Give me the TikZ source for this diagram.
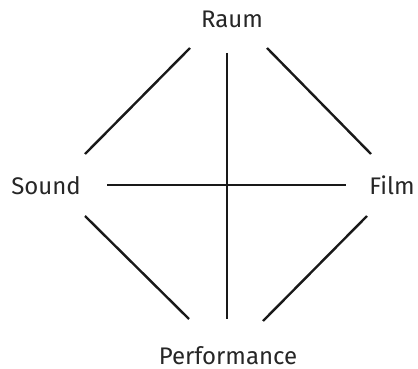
\documentclass[tikz,border=0pt]{standalone}
\usepackage{fontspec}
\setmainfont{Fira Sans}
\begin{document}
\begin{tikzpicture}[x=1pt,y=-1pt,
  lbl/.style={font=\fontsize{24}{28}\selectfont, text=black!85, inner sep=0pt, anchor=base},
  ln/.style={line width=2.4pt, draw=black!90}]
\useasboundingbox (0,0) rectangle (418,369);
\node[lbl] (raum) at (232,28) {Raum};
\node[lbl] (sound) at (46,194) {Sound};
\node[lbl] (film) at (392,194) {Film};
\node[lbl] (perf) at (228,364) {Performance};
\coordinate (vt) at (227,53);
\coordinate (vb) at (227,319);
\coordinate (hl) at (107,185);
\coordinate (hr) at (346,185);
\coordinate (tl1) at (85,154);
\coordinate (tl2) at (190,48);
\coordinate (tr1) at (267,48);
\coordinate (tr2) at (371,154);
\coordinate (bl1) at (85,216);
\coordinate (bl2) at (189,319);
\coordinate (br1) at (263,321);
\coordinate (br2) at (367,216);
\draw[ln] (vt) -- (vb);
\draw[ln] (hl) -- (hr);
\draw[ln] (tl1) -- (tl2);
\draw[ln] (tr1) -- (tr2);
\draw[ln] (bl1) -- (bl2);
\draw[ln] (br1) -- (br2);
\end{tikzpicture}
\end{document}
